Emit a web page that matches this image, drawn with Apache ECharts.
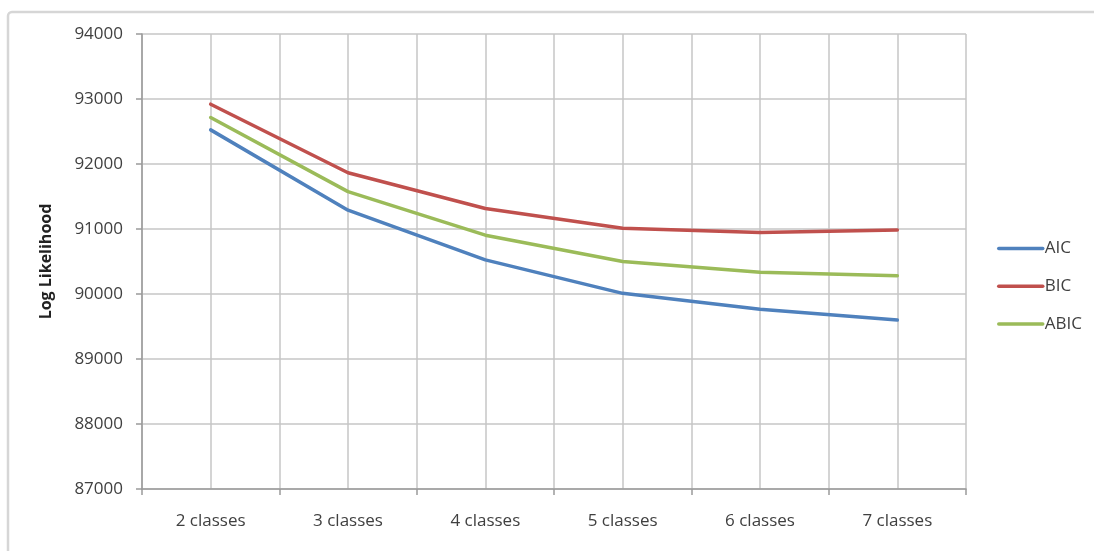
<!DOCTYPE html>
<html>
<head>
<meta charset="utf-8">
<script src="https://cdn.jsdelivr.net/npm/echarts@6/dist/echarts.min.js"></script>
<style>
html,body{margin:0;padding:0;background:#fff;}
#chart{width:1094px;height:551px;}
</style>
</head>
<body>
<div id="chart"></div>
<script>
var categories = ['2 classes', '3 classes', '4 classes', '5 classes', '6 classes', '7 classes'];
var aic  = [92525, 91290, 90525, 90010, 89765, 89600];
var bic  = [92920, 91865, 91315, 91010, 90945, 90985];
var abic = [92715, 91575, 90905, 90500, 90335, 90280];
var seriesNames = ['AIC', 'BIC', 'ABIC'];
var yTitle = 'Log Likelihood';

var FONT = '"Open Sans", sans-serif';
var TXT = '#404040';
var GRID = '#c6c6c6';
var AXIS = '#9a9a9a';

var chart = echarts.init(document.getElementById('chart'), null, {renderer: 'canvas'});
function mk(name, data, color) {
  return {
    name: name, type: 'line', data: data, xAxisIndex: 0, yAxisIndex: 0,
    symbol: 'none', smooth: false,
    lineStyle: {color: color, width: 3.5, join: 'round', cap: 'round'},
    itemStyle: {color: color},
    emphasis: {disabled: true}, animation: false
  };
}
chart.setOption({
  animation: false,
  backgroundColor: '#fff',
  textStyle: {fontFamily: FONT},
  graphic: [{
    type: 'rect', z: -10,
    shape: {x: 8, y: 12, width: 1110, height: 570, r: 4},
    style: {fill: 'none', stroke: '#d6d6d6', lineWidth: 2.5}
  }],
  grid: {left: 142, right: 128, top: 34, bottom: 62, containLabel: false},
  legend: {
    orient: 'vertical', left: 992, top: 235,
    itemWidth: 44, itemHeight: 16, itemGap: 20.7,
    data: seriesNames,
    textStyle: {fontFamily: FONT, fontSize: 17, color: TXT, padding: [0, 0, 0, -3]},
    itemStyle: {opacity: 0},
    lineStyle: {width: 3.5}
  },
  xAxis: [{
    type: 'category', data: categories, boundaryGap: true,
    axisLine: {show: true, lineStyle: {color: AXIS, width: 1.5}},
    axisTick: {show: true, length: 6, lineStyle: {color: AXIS, width: 1.5}},
    axisLabel: {margin: 24, fontFamily: FONT, fontSize: 17, color: TXT},
    splitLine: {show: false}
  }, {
    type: 'value', min: 0, max: 12, interval: 1, position: 'bottom',
    axisLine: {show: false}, axisTick: {show: false}, axisLabel: {show: false},
    splitLine: {show: true, lineStyle: {color: GRID, width: 1.5}}
  }],
  yAxis: {
    type: 'value', min: 87000, max: 94000, interval: 1000,
    name: yTitle, nameLocation: 'middle', nameGap: 88, nameRotate: 90,
    nameTextStyle: {fontFamily: FONT, fontSize: 16, fontWeight: 'bold', color: '#222'},
    axisLine: {show: true, lineStyle: {color: AXIS, width: 1.5}},
    axisTick: {show: true, length: 6, lineStyle: {color: AXIS, width: 1.5}},
    axisLabel: {margin: 19, fontFamily: FONT, fontSize: 17, color: TXT,
      formatter: function (v) { return String(v); }},
    splitLine: {show: true, lineStyle: {color: GRID, width: 1.5}}
  },
  series: [
    mk(seriesNames[0], aic, '#4f81bd'),
    mk(seriesNames[1], bic, '#c0504d'),
    mk(seriesNames[2], abic, '#9bbb59')
  ]
});
</script>
</body>
</html>
